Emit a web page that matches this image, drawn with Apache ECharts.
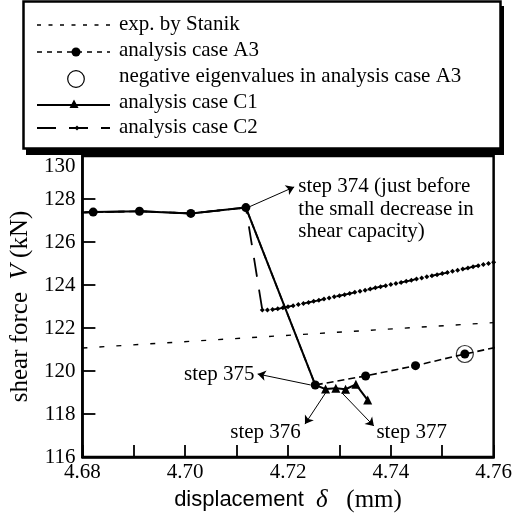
<!DOCTYPE html>
<html>
<head>
<meta charset="utf-8">
<script src="https://cdn.jsdelivr.net/npm/echarts@6/dist/echarts.min.js"></script>
<style>
  html, body { margin: 0; padding: 0; background: #fff; }
  #main { width: 515px; height: 521px; }
</style>
</head>
<body>
<div id="main"></div>
<script>
var serif = "'Liberation Serif', 'Times New Roman', serif";
var sans = "'Liberation Sans', Arial, sans-serif";

// tick labels
var xTickLabels = ['4.68', '4.70', '4.72', '4.74', '4.76'];
var yTickLabels = [116, 118, 120, 122, 124, 126, 128, 130];

// series values [displacement (mm), shear force (kN)]
var expStanik = [[4.68, 121.07], [4.76, 122.25]];
var caseA3 = [[4.672, 127.3], [4.6821, 127.39], [4.6911, 127.43], [4.7011, 127.33], [4.7118, 127.6],
  [4.7253, 119.35], [4.7351, 119.77], [4.7448, 120.25], [4.7544, 120.79], [4.7644, 121.3]];
var negEigen = [[4.7544, 120.79]];
var caseC1 = [[4.672, 127.3], [4.6821, 127.39], [4.6911, 127.43], [4.7011, 127.33], [4.7118, 127.6],
  [4.7253, 119.35], [4.7273, 119.16], [4.7293, 119.2], [4.7312, 119.15], [4.7332, 119.38], [4.7355, 118.65]];
var caseC2 = [[4.672, 127.3], [4.6821, 127.39], [4.6911, 127.43], [4.7011, 127.33], [4.7118, 127.6],
  [4.715, 122.84], [4.716, 122.84], [4.717, 122.86], [4.718, 122.89], [4.719, 122.94],
  [4.720, 122.99], [4.721, 123.04], [4.722, 123.09], [4.723, 123.14], [4.724, 123.19],
  [4.725, 123.24], [4.726, 123.29], [4.727, 123.35], [4.728, 123.40], [4.729, 123.45],
  [4.730, 123.50], [4.731, 123.55], [4.732, 123.60], [4.733, 123.66], [4.734, 123.71],
  [4.735, 123.76], [4.736, 123.81], [4.737, 123.87], [4.738, 123.92], [4.739, 123.97],
  [4.740, 124.02], [4.741, 124.07], [4.742, 124.12], [4.743, 124.17], [4.744, 124.22],
  [4.745, 124.28], [4.746, 124.33], [4.747, 124.38], [4.748, 124.43], [4.749, 124.48],
  [4.750, 124.53], [4.751, 124.58], [4.752, 124.64], [4.753, 124.69], [4.754, 124.74],
  [4.755, 124.79], [4.756, 124.85], [4.757, 124.90], [4.758, 124.95], [4.759, 125.00],
  [4.760, 125.06]];

// step annotations: arrow from the curve to the label
var stepArrows = [
  [[4.7126, 127.65], [4.7212, 128.56]],
  [[4.7244, 119.35], [4.7141, 119.86]],
  [[4.7273, 118.98], [4.7233, 117.53]],
  [[4.7305, 118.98], [4.7367, 117.44]]
];
var stepNotes = [
  { text: 'step 374 (just before\nthe small decrease in\nshear capacity)', at: [4.7220, 128.56], align: 'left' },
  { text: 'step 375', at: [4.7135, 119.86], align: 'right' },
  { text: 'step 376', at: [4.7225, 117.16], align: 'right' },
  { text: 'step 377', at: [4.7372, 117.16], align: 'left' }
];

var legendNames = ['exp. by Stanik', 'analysis case A3', 'negative eigenvalues in analysis case A3',
  'analysis case C1', 'analysis case C2'];

var chart = echarts.init(document.getElementById('main'));

chart.setOption({
  animation: false,
  backgroundColor: '#fff',
  grid: { left: 74, right: 16, top: 156, bottom: 64, show: true, borderColor: '#000', borderWidth: 2.5 },
  xAxis: {
    type: 'value', min: 4.68, max: 4.76, interval: 0.01,
    axisLine: { lineStyle: { color: '#000', width: 2.5 } },
    axisTick: { inside: true, length: 12, lineStyle: { color: '#000', width: 1.8 } },
    splitLine: { show: false },
    axisLabel: {
      color: '#000', fontFamily: serif, fontSize: 21, margin: 5,
      formatter: function (v) { var s = v.toFixed(2); return xTickLabels.indexOf(s) >= 0 ? s : ''; }
    },
    name: '{s|displacement  }{d|δ}{m|   (mm)}',
    nameLocation: 'middle', nameGap: 28,
    nameTextStyle: {
      rich: {
        s: { fontFamily: sans, fontSize: 22, color: '#000' },
        d: { fontFamily: serif, fontSize: 25, fontStyle: 'italic', color: '#000' },
        m: { fontFamily: serif, fontSize: 25, color: '#000' }
      }
    }
  },
  yAxis: {
    type: 'value', min: 116, max: 130, interval: 2,
    axisLine: { lineStyle: { color: '#000', width: 2.5 } },
    axisTick: { inside: true, length: 13, lineStyle: { color: '#000', width: 1.8 } },
    splitLine: { show: false },
    axisLabel: {
      color: '#000', fontFamily: serif, fontSize: 21, margin: 7,
      formatter: function (v) { return v === 130 ? '{t|130}' : String(v); },
      rich: { t: { fontFamily: serif, fontSize: 21, color: '#000', padding: [20, 0, 0, 0] } }
    },
    name: '{a|shear force  }{v|V}{a| (kN)}',
    nameLocation: 'middle', nameGap: 38,
    nameTextStyle: {
      rich: {
        a: { fontFamily: serif, fontSize: 25, color: '#000' },
        v: { fontFamily: serif, fontSize: 25, fontStyle: 'italic', color: '#000' }
      }
    }
  },
  series: [
    {
      name: legendNames[0], type: 'line', data: expStanik, symbol: 'none',
      lineStyle: { color: '#000', width: 1.4, type: [5, 12] },
      markLine: {
        silent: true, symbol: ['none', 'arrow'], symbolSize: 8,
        label: { show: false },
        lineStyle: { color: '#000', width: 1, type: 'solid' },
        emphasis: { disabled: true },
        data: stepArrows.map(function (a) { return [{ coord: a[0] }, { coord: a[1] }]; })
      }
    },
    {
      name: legendNames[4], type: 'line', data: caseC2, symbol: 'diamond', symbolSize: 5,
      itemStyle: { color: '#000' },
      lineStyle: { color: '#000', width: 1.8, type: [19, 13] }
    },
    {
      name: legendNames[1], type: 'line', data: caseA3, symbol: 'circle', symbolSize: 9,
      itemStyle: { color: '#000' },
      lineStyle: { color: '#000', width: 1.6, type: [7, 4] }
    },
    {
      name: legendNames[3], type: 'line', data: caseC1, symbolSize: 9,
      symbol: function (v) { return v[0] > 4.726 ? 'triangle' : 'none'; },
      itemStyle: { color: '#000' },
      lineStyle: { color: '#000', width: 2 }
    },
    {
      name: legendNames[2], type: 'scatter', data: negEigen, symbol: 'circle', symbolSize: 17,
      itemStyle: { color: 'rgba(0,0,0,0)', borderColor: '#000', borderWidth: 1.2 }
    }
  ]
});

// legend key box, drawn as graphic elements
var rowText = [24, 50, 76, 102, 127];
var rowLine = [25, 52, 79, 105, 128];
var els = [
  { type: 'rect', z: 100, shape: { x: 26, y: 6, width: 478, height: 149 }, style: { fill: '#000' } },
  { type: 'rect', z: 101, shape: { x: 23.5, y: 1.5, width: 477, height: 147 }, style: { fill: '#fff', stroke: '#000', lineWidth: 2.5 } },
  { type: 'line', z: 102, shape: { x1: 37, y1: rowLine[0], x2: 110, y2: rowLine[0] }, style: { stroke: '#000', lineWidth: 1.4, lineDash: [4, 7.5] } },
  { type: 'line', z: 102, shape: { x1: 37, y1: rowLine[1], x2: 110, y2: rowLine[1] }, style: { stroke: '#000', lineWidth: 1.5, lineDash: [5, 5] } },
  { type: 'circle', z: 103, shape: { cx: 76, cy: rowLine[1], r: 4.5 }, style: { fill: '#000' } },
  { type: 'circle', z: 103, shape: { cx: 76, cy: rowLine[2], r: 8.3 }, style: { fill: '#fff', stroke: '#000', lineWidth: 1.2 } },
  { type: 'line', z: 102, shape: { x1: 37, y1: rowLine[3], x2: 110, y2: rowLine[3] }, style: { stroke: '#000', lineWidth: 2 } },
  { type: 'polygon', z: 103, shape: { points: [[74, rowLine[3] - 5.5], [78.5, rowLine[3] + 3], [69.5, rowLine[3] + 3]] }, style: { fill: '#000' } },
  { type: 'line', z: 102, shape: { x1: 37, y1: rowLine[4], x2: 110, y2: rowLine[4] }, style: { stroke: '#000', lineWidth: 1.8, lineDash: [19, 13] } },
  { type: 'polygon', z: 103, shape: { points: [[77, rowLine[4] - 2.5], [79.5, rowLine[4]], [77, rowLine[4] + 2.5], [74.5, rowLine[4]]] }, style: { fill: '#000' } }
];
legendNames.forEach(function (n, i) {
  els.push({ type: 'text', z: 103, x: 119, y: rowText[i],
    style: { text: n, fill: '#000', fontFamily: serif, fontSize: 21, verticalAlign: 'middle', align: 'left' } });
});

stepNotes.forEach(function (n) {
  var p = chart.convertToPixel({ gridIndex: 0 }, n.at);
  var multi = n.text.indexOf('\n') >= 0;
  els.push({ type: 'text', z: 90, x: p[0], y: multi ? p[1] - 11.25 : p[1],
    style: { text: n.text, fill: '#000', fontFamily: serif, fontSize: 21, lineHeight: 22.5,
      align: n.align, verticalAlign: multi ? 'top' : 'middle' } });
});

chart.setOption({ graphic: els });
</script>
</body>
</html>
